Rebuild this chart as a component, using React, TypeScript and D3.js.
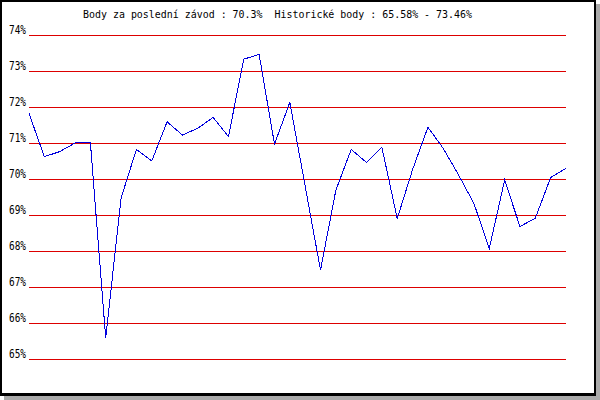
import React from "react";
import * as d3 from "d3";

const titleText = "Body za poslední závod : 70.3%  Historické body : 65.58% - 73.46%";
const yTicks = [65, 66, 67, 68, 69, 70, 71, 72, 73, 74];
const points = [
  71.82, 70.62, 70.76, 71.0, 71.02, 65.58, 69.47, 70.82, 70.5, 71.59,
  71.22, 71.41, 71.71, 71.18, 73.33, 73.46, 70.97, 72.13, 69.8, 67.47,
  69.69, 70.82, 70.46, 70.88, 68.9, 70.26, 71.44, 70.85, 70.11, 69.32,
  68.07, 69.97, 68.68, 68.91, 70.04, 70.3,
];

const W = 600;
const H = 400;
const FONT = "'DejaVu Sans Mono', 'Liberation Mono', monospace";

export default function App() {
  const x = d3.scaleLinear().domain([0, points.length - 1]).range([29, 566]);
  const y = d3.scaleLinear().domain([65, 74]).range([359, 35]);
  const line = d3
    .line<number>()
    .x((_, i) => x(i))
    .y((d) => y(d));

  return (
    <svg
      width={W}
      height={H}
      style={{ position: "absolute", left: 0, top: 0, display: "block" }}
    >
      <rect x={4} y={4} width={596} height={396} fill="#aaaaaa" />
      <rect x={0} y={0} width={596} height={396} fill="#000000" />
      <rect x={2} y={2} width={592} height={391} fill="#ffffff" />
      <text
        x={83}
        y={17.5}
        fontFamily={FONT}
        fontSize={11}
        textLength={389}
        lengthAdjust="spacingAndGlyphs"
        fill="#000"
        style={{ whiteSpace: "pre" }}
      >
        {titleText}
      </text>
      {yTicks.map((t) => (
        <g key={t}>
          <line
            x1={29}
            x2={566}
            y1={y(t) + 0.5}
            y2={y(t) + 0.5}
            stroke="#dd0000"
            strokeWidth={1}
            shapeRendering="crispEdges"
          />
          <text
            x={9}
            y={y(t) - 1.5}
            fontFamily={FONT}
            fontSize={12}
            textLength={17}
            lengthAdjust="spacingAndGlyphs"
            fill="#000"
          >
            {t + "%"}
          </text>
        </g>
      ))}
      <path
        d={line(points) || ""}
        fill="none"
        stroke="#0000dd"
        strokeWidth={1}
        shapeRendering="crispEdges"
      />
    </svg>
  );
}
